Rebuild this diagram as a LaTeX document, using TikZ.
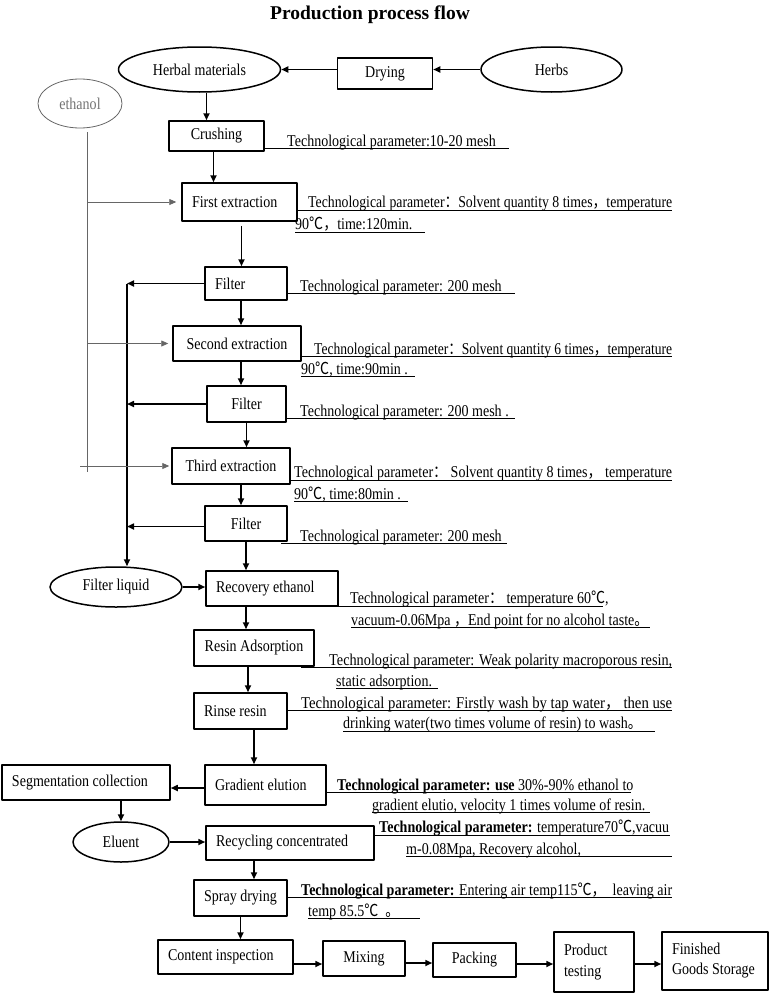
\documentclass[tikz,border=0pt]{standalone}
\usepackage{graphicx}
\usepackage{fontspec}
\setmainfont{Liberation Serif}[FakeStretch=0.85]
\newfontfamily\titlefont{Liberation Serif}
\newfontfamily\cjk{Noto Sans CJK SC}[FakeStretch=0.85]
\newcommand{\qcolon}{{\cjk ：}}
\newcommand{\qcomma}{{\cjk ，}}
\newcommand{\qstop}{{\cjk 。}}
\newcommand{\degc}{{\cjk ℃}}
\newcommand{\jline}[2]{\resizebox{#1}{\height}{#2}}
\newcommand{\fsz}{\fontsize{16.5pt}{18.5pt}\selectfont}
\usetikzlibrary{arrows.meta,shapes.geometric}

\begin{document}
\begin{tikzpicture}[x=1pt, y=-1pt, line join=round,
  every node/.style={font=\fsz},
  box/.style={draw, line width=1.5pt, inner sep=0pt},
  lbox/.style={box, inner xsep=10pt, align=none},
  oval/.style={draw, ellipse, line width=1.5pt, inner sep=0pt},
  param/.style={anchor=base west, inner sep=0pt},
  arr/.style={-{Triangle[length=7pt,width=6pt]}, line width=1.6pt},
  gline/.style={draw=black!60, line width=0.8pt},
  garr/.style={draw=black!60, fill=black!60, -{Triangle[length=7pt,width=6pt]}, line width=0.8pt},
  uline/.style={line width=0.7pt}]

\useasboundingbox (0,0) rectangle (772,1001);

\node[font=\titlefont\bfseries\fontsize{19.5pt}{22pt}\selectfont] (title) at (370,15) {Production process flow};

% raw materials
\node[oval, minimum width=162pt, minimum height=45pt] (herbal) at (199.5,69.5) {Herbal materials};
\node[box, minimum width=95pt, minimum height=31pt] (dry) at (385,73.5) {Drying};
\node[oval, minimum width=141pt, minimum height=45pt] (herbs) at (551.5,69.5) {Herbs};
\node[oval, draw=black!60, text=black!55, line width=0.8pt, minimum width=84pt, minimum height=49pt] (eth) at (80,103.5) {ethanol};

% main column
\node[box, minimum width=95pt, minimum height=30pt] (crush) at (216.5,136) {Crushing};
\node[lbox, text width=95pt, minimum height=38pt] (first) at (239.5,202) {First extraction};
\node[lbox, text width=62pt, minimum height=33pt] (f1) at (246,283.5) {Filter};
\node[box, minimum width=128pt, minimum height=35pt] (second) at (237,343.5) {Second extraction};
\node[box, minimum width=79pt, minimum height=36pt] (f2) at (246.5,404) {Filter};
\node[box, minimum width=118pt, minimum height=36pt] (third) at (231,466) {Third extraction};
\node[box, minimum width=82pt, minimum height=35pt] (f3) at (246,523.5) {Filter};
\node[oval, minimum width=132pt, minimum height=40pt] (fl) at (116,587) {Filter liquid};
\node[lbox, text width=112pt, minimum height=35pt] (recov) at (272,588.5) {Recovery ethanol};
\node[box, minimum width=120pt, minimum height=36pt] (resin) at (254,648) {Resin Adsorption};
\node[lbox, text width=73pt, minimum height=36pt] (rinse) at (240.5,711) {Rinse resin};
\node[lbox, text width=101pt, minimum height=40pt] (grad) at (265.5,785) {Gradient elution};
\node[lbox, text width=148pt, minimum height=35pt] (seg) at (86,782.5) {Segmentation collection};
\node[oval, minimum width=96pt, minimum height=40pt] (eluent) at (121,842) {Eluent};
\node[lbox, text width=148pt, minimum height=34pt] (recyc) at (290,843) {Recycling concentrated};
\node[box, minimum width=93pt, minimum height=36pt] (spray) at (240.5,898) {Spray drying};

% bottom row
\node[lbox, text width=115pt, minimum height=34pt] (content) at (225.5,957) {Content inspection};
\node[box, minimum width=82pt, minimum height=35pt] (mix) at (364,958.5) {Mixing};
\node[box, minimum width=83pt, minimum height=34pt] (pack) at (474.5,960) {Packing};
\node[lbox, text width=60pt, minimum height=60pt] (prod) at (594,962) {Product\\[2.5pt]testing};
\node[lbox, text width=86pt, minimum height=58pt] (fin) at (715,961) {Finished\\[1.5pt]Goods Storage};

% flow
\draw[arr] (herbs.west) -- (herbs.west -| dry.east);
\draw[arr] (dry.west |- herbal.east) -- (herbal.east);
\draw[arr] ([xshift=7pt]herbal.south) -- ([xshift=7pt]herbal.south |- crush.north);
\draw[arr] ([xshift=-3pt]crush.south) -- ([xshift=-3pt]crush.south |- first.north);
\draw[arr] ([xshift=2pt,yshift=-4pt]first.south) -- ([xshift=2pt]first.south |- f1.north);
\draw[arr] ([xshift=-5pt]f1.south) -- ([xshift=-5pt]f1.south |- second.north);
\draw[arr] ([xshift=4pt]second.south) -- ([xshift=4pt]second.south |- f2.north);
\draw[arr] (f2.south) -- (f2.south |- third.north);
\draw[arr] ([xshift=10pt]third.south) -- ([xshift=10pt]third.south |- f3.north);
\draw[arr] (f3.south) -- (f3.south |- recov.north);
\draw[arr] ([xshift=-8pt]resin.north |- recov.south) -- ([xshift=-8pt]resin.north);
\draw[arr] ([xshift=-6pt]resin.south) -- ([xshift=-6pt]resin.south |- rinse.north);
\draw[arr] ([xshift=13.5pt]rinse.south) -- ([xshift=13.5pt]rinse.south |- grad.north);
\draw[arr] ([yshift=-3pt]grad.west) -- ([yshift=-3pt]grad.west -| seg.east);
\draw[arr] (eluent.north |- seg.south) -- (eluent.north);
\draw[arr] (eluent.east) -- (eluent.east -| recyc.west);
\draw[arr] ([xshift=13.5pt]spray.north |- recyc.south) -- ([xshift=13.5pt]spray.north);
\draw[arr] (spray.south) -- (spray.south |- content.north);
\draw[arr] ([yshift=-7pt]content.east) -- ([yshift=-7pt]content.east -| mix.west);
\draw[arr] ([yshift=-4.5pt]mix.east) -- ([yshift=-4.5pt]mix.east -| pack.west);
\draw[arr] ([yshift=-4pt]pack.east) -- ([yshift=-4pt]pack.east -| prod.west);
\draw[arr] ([yshift=-2pt]prod.east) -- ([yshift=-2pt]prod.east -| fin.west);
\draw[arr] (fl.east) -- (fl.east -| recov.west);

% filtrate collection
\coordinate (coll) at (127,283.5);
\draw[arr] (f1.west) -- (coll);
\draw[arr] (f2.west) -- (f2.west -| coll);
\draw[arr] ([yshift=-3pt]f3.west) -- ([yshift=-3pt]f3.west -| coll);
\draw[arr] (coll) -- (coll |- fl.north);

% ethanol feed
\coordinate (ebus) at (87,472);
\draw[gline] ([xshift=7pt,yshift=-4pt]eth.south) -- (ebus);
\draw[garr] (ebus |- first.west) -- ([xshift=-5pt]first.west);
\draw[garr] (ebus |- second.west) -- ([xshift=-4pt]second.west);
\draw[garr] ([xshift=-7pt]ebus |- third.west) -- ([xshift=-2pt]third.west);

% parameters
\node[param] (p1) at (287,146.5) {Technological parameter:10-20 mesh};
\draw[uline] (264,148.5) -- (509,148.5);
\node[param] (p2a) at (308,207.5) {\jline{364pt}{Technological parameter\qcolon Solvent quantity 8 times\qcomma temperature}};
\draw[uline] (297,210) -- (672,210);
\node[param] (p2b) at (295,229.5) {90\degc\qcomma time:120min.};
\draw[uline] (295,232) -- (425,232);
\node[param] (p3) at (300,291) {Technological parameter: 200 mesh};
\draw[uline] (287,293.5) -- (515,293.5);
\node[param] (p4a) at (314,354) {\jline{358pt}{Technological parameter\qcolon Solvent quantity 6 times\qcomma temperature}};
\draw[uline] (301,356.5) -- (672,356.5);
\node[param] (p4b) at (301,374) {90\degc, time:90min .};
\draw[uline] (301,376.5) -- (415,376.5);
\node[param] (p5) at (300,416) {Technological parameter: 200 mesh .};
\draw[uline] (286,418.5) -- (515,418.5);
\node[param] (p6a) at (294,477.5) {\jline{378pt}{Technological parameter\qcolon\ Solvent quantity 8 times\qcomma\ temperature}};
\draw[uline] (290,480) -- (672,480);
\node[param] (p6b) at (294,499) {90\degc, time:80min .};
\draw[uline] (294,501.5) -- (408,501.5);
\node[param] (p7) at (300,541) {Technological parameter: 200 mesh};
\draw[uline] (281,543.5) -- (507,543.5);
\node[param] (p8a) at (350,603.5) {Technological parameter\qcolon\ temperature 60\degc,};
\draw[uline] (338,606) -- (603,606);
\node[param] (p8b) at (351,625) {vacuum-0.06Mpa \qcomma End point for no alcohol taste\qstop};
\draw[uline] (351,627.5) -- (650,627.5);
\node[param] (p9a) at (329,665) {\jline{343pt}{Technological parameter: Weak polarity macroporous resin,}};
\draw[uline] (301,667.5) -- (672,667.5);
\node[param] (p9b) at (336,686) {static adsorption.};
\draw[uline] (336,688.5) -- (438,688.5);
\node[param] (p10a) at (301,708) {\jline{371pt}{Technological parameter: Firstly wash by tap water\qcomma\ then use}};
\draw[uline] (287,710.5) -- (672,710.5);
\node[param] (p10b) at (343,728.5) {drinking water(two times volume of resin) to wash\qstop};
\draw[uline] (343,731) -- (655,731);
\node[param] (p11a) at (337,790) {\textbf{Technological parameter: use} 30\%-90\% ethanol to};
\draw[uline] (326,792.5) -- (631,792.5);
\node[param] (p11b) at (372,810) {gradient elutio, velocity 1 times volume of resin.};
\draw[uline] (372,812.5) -- (650,812.5);
\node[param] (p12a) at (379,832.5) {\textbf{Technological parameter:} temperature70\degc,vacuu};
\draw[uline] (374,835) -- (670,835);
\node[param] (p12b) at (406,854) {m-0.08Mpa, Recovery alcohol,};
\draw[uline] (406,856.5) -- (672,856.5);
\node[param] (p13a) at (301,895) {\jline{371pt}{\textbf{Technological parameter:} Entering air temp115\degc\qcomma\ \ leaving air}};
\draw[uline] (287,897.5) -- (672,897.5);
\node[param] (p13b) at (308,916) {temp 85.5\degc\ \ \qstop};
\draw[uline] (308,918.5) -- (420,918.5);

\end{tikzpicture}
\end{document}
